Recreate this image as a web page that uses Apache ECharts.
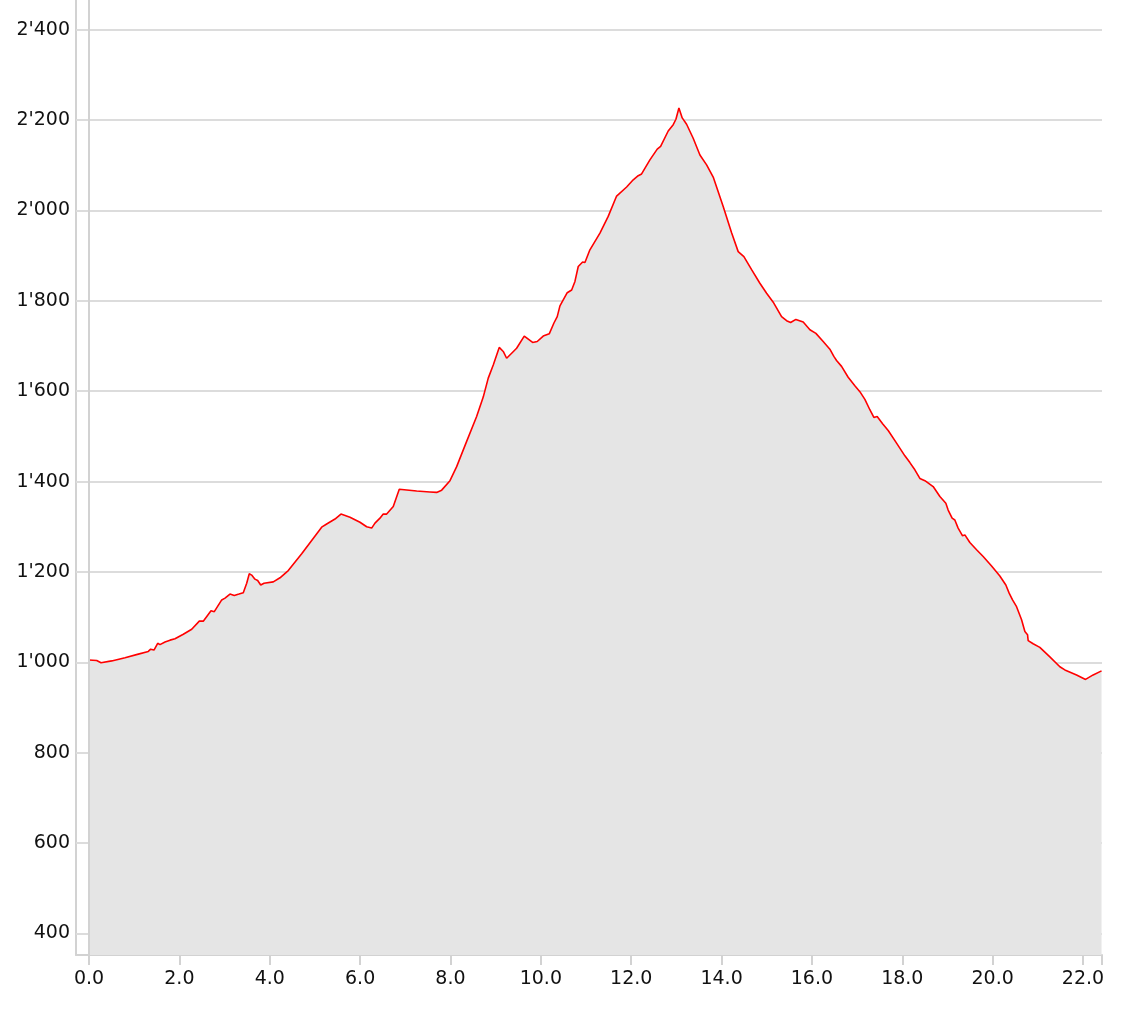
<!DOCTYPE html>
<html>
<head>
<meta charset="utf-8">
<script src="https://cdn.jsdelivr.net/npm/echarts@6/dist/echarts.min.js"></script>
<style>html,body{margin:0;padding:0;background:#fff;}#c{width:1134px;height:1011px;}</style>
</head>
<body>
<div id="c"></div>
<script>
// distance along route (km)
const distKm = [0,0.170,0.266,0.502,0.797,1.091,1.312,1.365,1.438,1.520,1.571,1.682,1.793,1.903,2.087,2.273,2.441,2.529,2.700,2.773,2.937,3.010,3.120,3.215,3.319,3.414,3.490,3.547,3.600,3.673,3.733,3.800,3.873,4.078,4.227,4.410,4.707,5.149,5.260,5.444,5.576,5.776,5.997,6.145,6.256,6.329,6.439,6.512,6.588,6.623,6.734,6.867,7.252,7.546,7.694,7.805,7.989,8.137,8.358,8.579,8.725,8.836,8.947,9.079,9.168,9.243,9.354,9.464,9.633,9.818,9.920,10.053,10.186,10.290,10.363,10.423,10.584,10.682,10.755,10.828,10.925,10.976,11.086,11.308,11.491,11.677,11.899,12.045,12.155,12.230,12.414,12.576,12.651,12.819,12.930,12.990,13.056,13.129,13.226,13.372,13.521,13.669,13.815,14.036,14.222,14.368,14.494,14.665,14.848,14.997,15.143,15.328,15.439,15.528,15.645,15.807,15.955,16.088,16.249,16.397,16.485,16.545,16.656,16.802,16.950,17.061,17.172,17.282,17.371,17.444,17.564,17.688,17.873,18.057,18.168,18.278,18.389,18.500,18.683,18.832,18.964,19.015,19.103,19.163,19.236,19.334,19.385,19.495,19.644,19.790,19.976,20.159,20.292,20.365,20.440,20.529,20.640,20.713,20.772,20.786,20.896,21.044,21.266,21.487,21.598,21.857,22.056,22.224,22.410];
// elevation (m)
const elevM = [1005,1004,999,1003,1010,1018,1024,1029,1027,1042,1039,1045,1049,1052,1062,1073,1091,1091,1114,1112,1138,1142,1151,1148,1151,1154,1175,1196,1193,1184,1181,1171,1175,1178,1187,1203,1240,1299,1306,1317,1328,1321,1310,1300,1297,1308,1319,1328,1328,1326,1345,1383,1379,1377,1376,1381,1402,1433,1489,1544,1587,1629,1658,1697,1688,1673,1684,1695,1722,1708,1710,1722,1727,1751,1765,1789,1818,1824,1843,1876,1886,1885,1913,1950,1987,2032,2052,2068,2077,2081,2112,2136,2142,2176,2190,2202,2227,2205,2191,2160,2123,2101,2074,2009,1951,1909,1898,1869,1839,1817,1797,1765,1756,1752,1759,1753,1736,1728,1710,1693,1677,1668,1655,1631,1612,1599,1582,1559,1542,1544,1528,1513,1485,1457,1442,1426,1407,1402,1389,1367,1352,1337,1319,1315,1297,1280,1282,1265,1249,1234,1213,1191,1171,1153,1138,1123,1094,1068,1061,1048,1041,1033,1012,990,983,972,962,972,981];
const xTickValues = [0,2,4,6,8,10,12,14,16,18,20,22];
const yTickValues = [400,600,800,1000,1200,1400,1600,1800,2000,2200,2400];
const xMin = -0.288, xMax = 22.42, yMin = 352, yMax = 2466;

const seriesData = distKm.map((d, i) => [d, elevM[i]]);
function fmtThousands(v) {
  v = Math.round(v);
  if (v >= 1000) return Math.floor(v / 1000) + "'" + String(v % 1000).padStart(3, '0');
  return String(v);
}
const axisColor = '#d2d2d2';
const chart = echarts.init(document.getElementById('c'), null, {renderer: 'canvas'});
chart.setOption({
  animation: false,
  backgroundColor: '#ffffff',
  grid: {left: 76, right: 32, top: 0, bottom: 56, containLabel: false},
  xAxis: {
    type: 'value', min: xMin, max: xMax,
    axisLine: {show: true, onZero: false, lineStyle: {color: axisColor, width: 2}},
    axisTick: {show: true, length: 10, lineStyle: {color: axisColor, width: 2}, customValues: xTickValues.concat([xMax])},
    axisLabel: {customValues: xTickValues, formatter: v => v.toFixed(1), color: '#111', fontFamily: 'DejaVu Sans', fontSize: 19, margin: 15},
    splitLine: {show: false}
  },
  yAxis: {
    type: 'value', min: yMin, max: yMax,
    axisLine: {show: true, onZero: false, lineStyle: {color: axisColor, width: 2}},
    axisTick: {show: false, customValues: yTickValues},
    axisLabel: {customValues: yTickValues, formatter: v => fmtThousands(v), color: '#111', fontFamily: 'DejaVu Sans', fontSize: 19, margin: 6},
    splitLine: {show: false}
  },
  series: [
    {
      type: 'line', z: 1, data: [], silent: true,
      markLine: {
        z: 1, silent: true, symbol: 'none', animation: false,
        label: {show: false},
        lineStyle: {type: 'solid', color: '#dcdcdc', width: 2},
        data: yTickValues.map(v => ({yAxis: v}))
      }
    },
    {
      type: 'line', z: 2, data: seriesData, showSymbol: false, symbol: 'none',
      smooth: false,
      lineStyle: {color: '#ff0000', width: 1.6},
      areaStyle: {color: '#e5e5e5', opacity: 1, origin: 'start'}
    },
    {
      type: 'line', z: 4, data: [], silent: true,
      markLine: {
        z: 4, silent: true, symbol: 'none', animation: false,
        label: {show: false},
        lineStyle: {type: 'solid', color: axisColor, width: 2},
        data: [{xAxis: 0}]
      }
    }
  ]
});
</script>
</body>
</html>
